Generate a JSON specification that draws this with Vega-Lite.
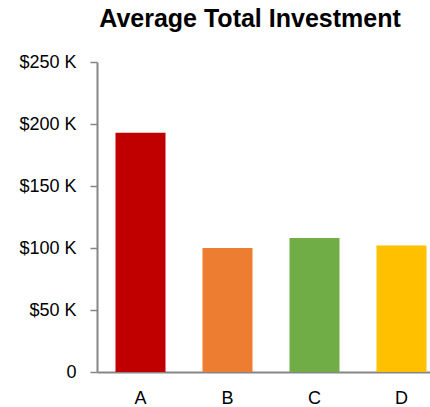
{
  "$schema": "https://vega.github.io/schema/vega-lite/v6.json",
  "autosize": "none",
  "padding": {"left": 97, "top": 62, "right": 0, "bottom": 35},
  "width": 348,
  "height": 310,
  "background": "white",
  "title": {
    "text": "Average Total Investment",
    "font": "Liberation Sans",
    "fontSize": 25,
    "fontWeight": "bold",
    "color": "#000000",
    "anchor": "middle",
    "dx": -21,
    "offset": 21
  },
  "data": {
    "values": [
      {"group": "A", "investment": 193000},
      {"group": "B", "investment": 100000},
      {"group": "C", "investment": 108000},
      {"group": "D", "investment": 102000}
    ]
  },
  "mark": {"type": "bar"},
  "encoding": {
    "x": {
      "field": "group",
      "type": "nominal",
      "sort": null,
      "scale": {"paddingInner": 0.425, "paddingOuter": 0.2125},
      "axis": {
        "title": null,
        "labelAngle": 0,
        "labelFont": "Liberation Sans",
        "labelFontSize": 18,
        "labelColor": "#000000",
        "labelPadding": 17,
        "ticks": false,
        "domainColor": "#868686",
        "domainWidth": 2,
        "grid": false
      }
    },
    "y": {
      "field": "investment",
      "type": "quantitative",
      "scale": {"domain": [0, 250000], "nice": false},
      "axis": {
        "title": null,
        "values": [0, 50000, 100000, 150000, 200000, 250000],
        "labelExpr": "datum.value == 0 ? '0' : '$' + (datum.value / 1000) + ' K'",
        "labelFont": "Liberation Sans",
        "labelFontSize": 18,
        "labelColor": "#000000",
        "labelPadding": 14,
        "tickSize": 7,
        "tickColor": "#868686",
        "tickWidth": 1.5,
        "domainColor": "#868686",
        "domainWidth": 2,
        "grid": false
      }
    },
    "color": {
      "field": "group",
      "type": "nominal",
      "scale": {"domain": ["A", "B", "C", "D"], "range": ["#C00000", "#ED7D31", "#70AD47", "#FFC000"]},
      "legend": null
    }
  },
  "config": {"view": {"stroke": null}}
}
